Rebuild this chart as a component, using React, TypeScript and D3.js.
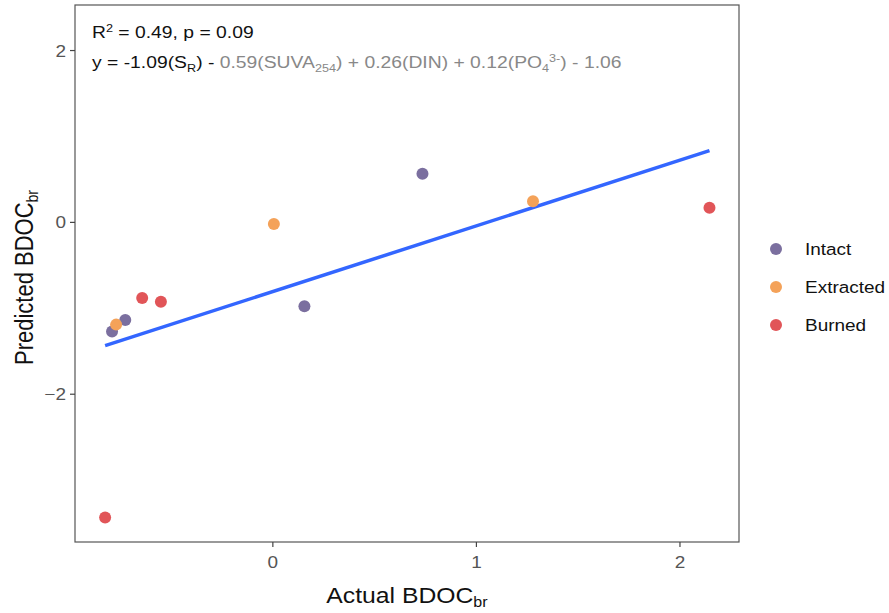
import React, {useEffect, useRef} from 'react'
import * as d3 from 'd3'

// data
const groups = ['Intact', 'Extracted', 'Burned']
const groupColors = ['#7b6f9f', '#f4a259', '#e15558']

const intactX = [-0.79, -0.725, 0.735, 0.155]
const intactY = [-1.27, -1.135, 0.565, -0.975]
const extractedX = [-0.77, 0.005, 1.278]
const extractedY = [-1.19, -0.02, 0.245]
const burnedX = [-0.642, -0.55, 2.145, -0.824]
const burnedY = [-0.88, -0.925, 0.17, -3.435]

const fitX = [-0.824, 2.145]
const fitY = [-1.435, 0.835]

const xTicks = [0, 1, 2]
const yTicks = [-2, 0, 2]

// the source picture is a bit wider than tall in its glyphs
const SX = 1.15

export default function App() {
  const ref = useRef<SVGSVGElement>(null)

  useEffect(() => {
    const svg = d3.select(ref.current)
    svg.selectAll('*').remove()

    const left = 75, right = 739, top = 5, bottom = 542
    const x = d3.scaleLinear().domain([-0.972, 2.29]).range([left, right])
    const y = d3.scaleLinear().domain([-3.72, 2.53]).range([bottom, top])

    const font = 'Liberation Sans, Arial, Helvetica, sans-serif'

    // text placed at (tx,ty), stretched horizontally
    const label = (tx: number, ty: number, size: number, fill: string, anchor = 'start') =>
      svg.append('text')
        .attr('transform', `translate(${tx},${ty}) scale(${SX},1)`)
        .attr('text-anchor', anchor).attr('font-family', font)
        .attr('font-size', size).attr('fill', fill)

    // panel
    svg.append('rect')
      .attr('x', left).attr('y', top)
      .attr('width', right - left).attr('height', bottom - top)
      .attr('fill', 'white').attr('stroke', '#555').attr('stroke-width', 1.2)

    // x axis
    const xa = svg.append('g').attr('transform', `translate(0,${bottom})`)
    xa.selectAll('line').data(xTicks).enter().append('line')
      .attr('x1', d => x(d)).attr('x2', d => x(d))
      .attr('y1', 0).attr('y2', 5).attr('stroke', '#444').attr('stroke-width', 1.2)
    xTicks.forEach(d => {
      label(x(d), 568, 16.5, '#555', 'middle').text(d)
    })

    // y axis
    const ya = svg.append('g').attr('transform', `translate(${left},0)`)
    ya.selectAll('line').data(yTicks).enter().append('line')
      .attr('x1', -5).attr('x2', 0)
      .attr('y1', d => y(d)).attr('y2', d => y(d)).attr('stroke', '#444').attr('stroke-width', 1.2)
    yTicks.forEach(d => {
      label(left - 9, y(d) + 6, 16.5, '#555', 'end')
        .text(d < 0 ? '\u2212' + Math.abs(d) : String(d))
    })

    // axis titles
    const xt = label((left + right) / 2, 603, 21.5, '#111', 'middle')
    xt.append('tspan').text('Actual BDOC')
    xt.append('tspan').attr('font-size', 14).attr('dy', 4).text('br')

    const yt = svg.append('text')
      .attr('transform', `translate(33,${(top + bottom) / 2 + 4}) rotate(-90) scale(1,${SX})`)
      .attr('text-anchor', 'middle').attr('font-family', font).attr('font-size', 22).attr('fill', '#111')
    yt.append('tspan').text('Predicted BDOC')
    yt.append('tspan').attr('font-size', 14).attr('dy', 4).text('br')

    // fitted line
    svg.append('line')
      .attr('x1', x(fitX[0])).attr('y1', y(fitY[0]))
      .attr('x2', x(fitX[1])).attr('y2', y(fitY[1]))
      .attr('stroke', '#3366ff').attr('stroke-width', 3.5)

    // points
    const series = [
      {xs: intactX, ys: intactY, c: groupColors[0]},
      {xs: extractedX, ys: extractedY, c: groupColors[1]},
      {xs: burnedX, ys: burnedY, c: groupColors[2]},
    ]
    series.forEach(s => {
      svg.append('g').selectAll('circle')
        .data(s.xs.map((v, i) => [v, s.ys[i]]))
        .enter().append('circle')
        .attr('cx', d => x(d[0])).attr('cy', d => y(d[1]))
        .attr('r', 6).attr('fill', s.c)
    })

    // annotation
    const a1 = label(92, 38, 16.8, '#111')
    a1.append('tspan').text('R')
    a1.append('tspan').attr('font-size', 11).attr('dy', -6).text('2')
    a1.append('tspan').attr('dy', 6).text(' = 0.49, p = 0.09')

    const a2 = label(92, 68, 16.8, '#111')
    a2.append('tspan').text('y = -1.09(S')
    a2.append('tspan').attr('font-size', 11).attr('dy', 4).text('R')
    a2.append('tspan').attr('dy', -4).text(') - ')
    a2.append('tspan').attr('fill', '#888').text('0.59(SUVA')
    a2.append('tspan').attr('fill', '#888').attr('font-size', 11).attr('dy', 4).text('254')
    a2.append('tspan').attr('fill', '#888').attr('dy', -4).text(') + 0.26(DIN) + 0.12(PO')
    a2.append('tspan').attr('fill', '#888').attr('font-size', 11).attr('dy', 4).text('4')
    a2.append('tspan').attr('fill', '#888').attr('font-size', 11).attr('dy', -10).text('3-')
    a2.append('tspan').attr('fill', '#888').attr('dy', 6).text(') - 1.06')

    // legend
    groups.forEach((g, i) => {
      const cy = 249 + i * 38
      svg.append('circle').attr('cx', 776).attr('cy', cy).attr('r', 6).attr('fill', groupColors[i])
      label(805, cy + 6, 16.5, '#111').text(g)
    })
  }, [])

  return (
    <div style={{position: 'absolute', left: 0, top: 0}}>
      <svg ref={ref} width={889} height={613} style={{display: 'block'}} />
    </div>
  )
}
